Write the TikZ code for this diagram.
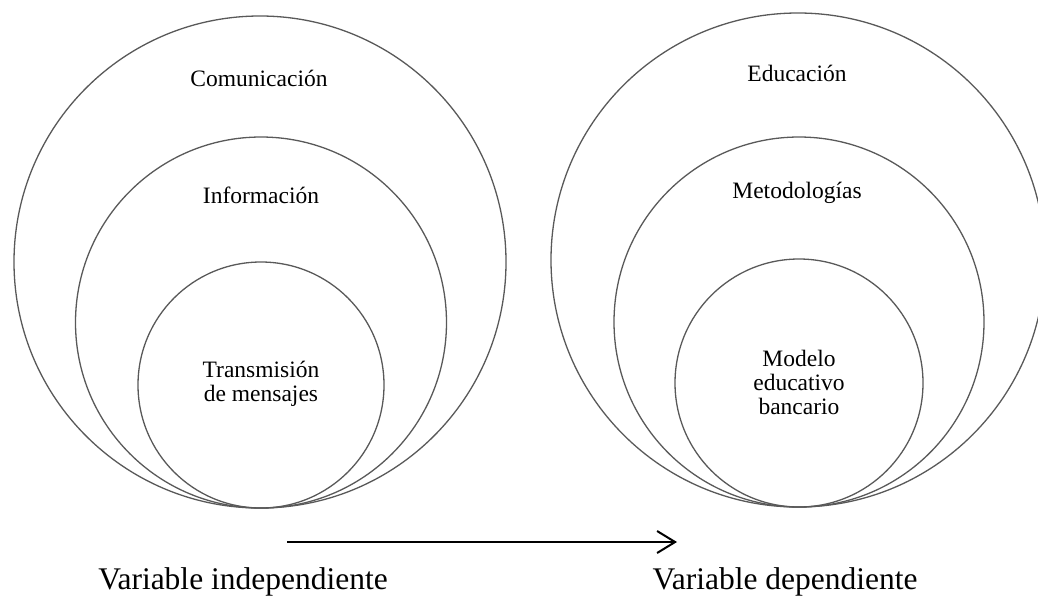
\documentclass[tikz,border=0pt]{standalone}
\usepackage{fontspec}
\setmainfont{Liberation Serif}
\usetikzlibrary{arrows.meta}

\begin{document}
\begin{tikzpicture}[x=1pt, y=-1pt, inner sep=0pt]
    \tikzstyle{ring_style} = [circle, draw=black!65, line width=1.3pt, inner sep=0pt]
    \tikzstyle{label_style} = [align=center, font=\fontsize{23.5}{24}\selectfont]
    \tikzstyle{var_style} = [font=\fontsize{31.5}{34}\selectfont]
    \useasboundingbox (0,0) rectangle (1038,598);

    % variable independiente
    \node[ring_style, minimum size=492pt] (com) at (260,262) {};
    \node[ring_style, minimum size=371pt] (inf) at (261,322.5) {};
    \node[ring_style, minimum size=246pt] (tra) at (261,385) {};
    \node[label_style] (com_txt) at (259,78) {Comunicación};
    \node[label_style] (inf_txt) at (261,195) {Información};
    \node[label_style] (tra_txt) at (261,384) {Transmisión\\de mensajes};

    % variable dependiente
    \node[ring_style, minimum size=494pt] (edu) at (798,260) {};
    \node[ring_style, minimum size=370pt] (met) at (799,322) {};
    \node[ring_style, minimum size=248pt] (mod) at (799,383) {};
    \node[label_style] (edu_txt) at (797,73) {Educación};
    \node[label_style] (met_txt) at (797,193) {Metodologías};
    \node[label_style] (mod_txt) at (799,382) {Modelo\\educativo\\bancario};

    \node[var_style] (indep) at (243,582) {Variable independiente};
    \node[var_style] (dep) at (785,582) {Variable dependiente};

    \coordinate (arr_start) at (287,542);
    \coordinate (arr_end) at (677,542);
    \draw[-{Straight Barb[length=18pt,width=22pt]}, line width=2pt] (arr_start) -- (arr_end);
\end{tikzpicture}
\end{document}
